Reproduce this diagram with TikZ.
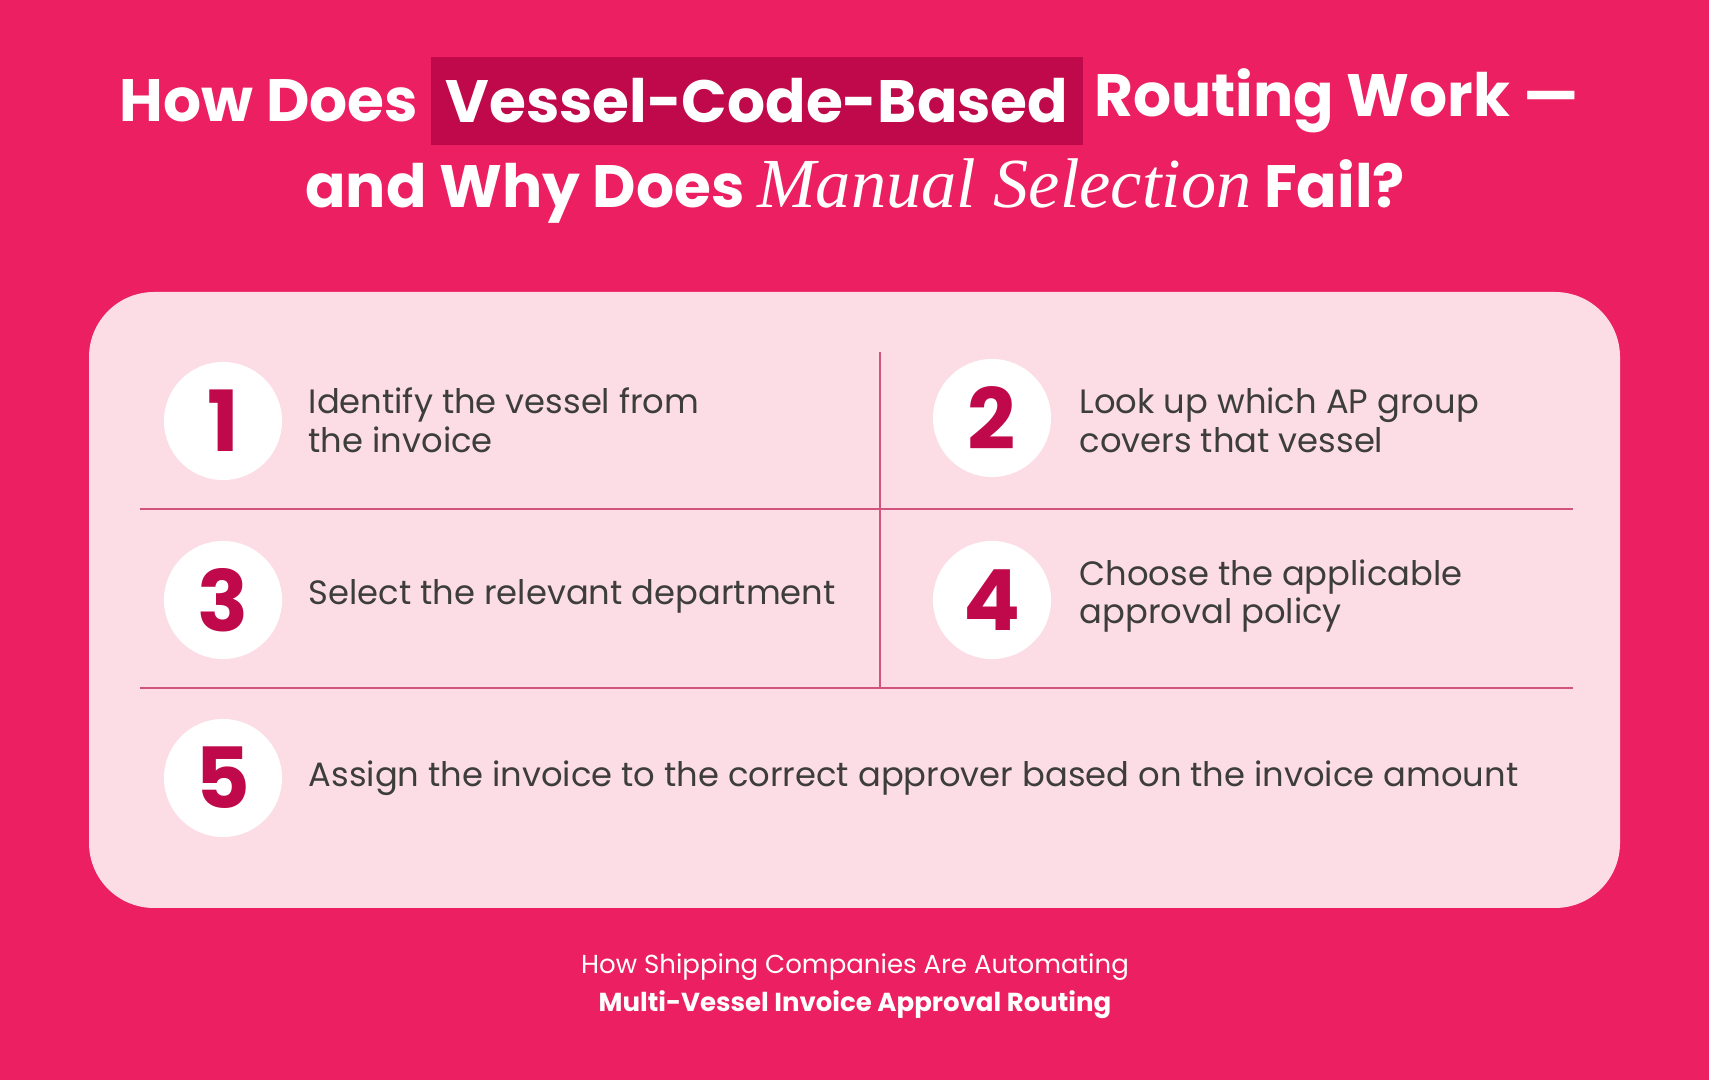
\documentclass[tikz,border=0pt]{standalone}
\usepackage{fontspec}
\setmainfont{Poppins}
\newfontfamily\serifit{Liberation Serif}
\usetikzlibrary{positioning}
\definecolor{bgpink}{HTML}{EB1F62}
\definecolor{cardpink}{HTML}{FCDDE6}
\definecolor{darkpink}{HTML}{C0094A}
\definecolor{textgrey}{HTML}{3D3D3D}
\tikzset{
  step circle/.style={circle,fill=white,minimum size=1.18cm,inner sep=0pt,
    font=\fontsize{24}{24}\selectfont\bfseries,text=darkpink},
  step text/.style={anchor=west,align=left,text=textgrey,
    font=\fontsize{9.6}{11}\selectfont,inner sep=0pt},
  title text/.style={text=white,font=\fontsize{17}{20}\selectfont\bfseries,inner sep=0pt},
  divider/.style={draw=darkpink!70,line width=0.5pt}
}
\begin{document}
\begin{tikzpicture}[x=0.01cm,y=-0.01cm]
  \fill[bgpink] (0,0) rectangle (1709,1080);
  \useasboundingbox (0,0) rectangle (1709,1080);
  % title
  \node[fill=darkpink,minimum width=6.51cm,minimum height=0.88cm,title text] (hl) at (757,101) {Vessel-Code-Based};
  \node[title text,anchor=east] (t1a) at ([xshift=-0.12cm]hl.west) {How Does};
  \node[title text,anchor=west] (t1b) at ([xshift=0.1cm]hl.east) {Routing Work —};
  \node[title text] (t2) at (855,191) {and Why Does {\serifit\itshape\mdseries\fontsize{20}{20}\selectfont Manual Selection} Fail?};
  % card
  \fill[cardpink,rounded corners=0.65cm] (89,292) rectangle (1620,908);
  \draw[divider] (140,509) -- (1573,509);
  \draw[divider] (140,688) -- (1573,688);
  \draw[divider] (880,352) -- (880,688);
  % steps
  \node[step circle] (n1) at (223,421) {1};
  \node[step circle] (n2) at (992,418) {2};
  \node[step circle] (n3) at (223,600) {3};
  \node[step circle] (n4) at (992,600) {4};
  \node[step circle] (n5) at (223,778) {5};
  \node[step text] (s1) at (308,420) {Identify the vessel from\\the invoice};
  \node[step text] (s2) at (1079,420) {Look up which AP group\\covers that vessel};
  \node[step text] (s3) at (308,596) {Select the relevant department};
  \node[step text] (s4) at (1079,596) {Choose the applicable\\approval policy};
  \node[step text] (s5) at (308,778) {Assign the invoice to the correct approver based on the invoice amount};
  % footer
  \node[text=white,font=\fontsize{7.4}{9}\selectfont] (f1) at (855,967) {How Shipping Companies Are Automating};
  \node[text=white,font=\fontsize{7.4}{9}\selectfont\bfseries] (f2) at (855,1005) {Multi-Vessel Invoice Approval Routing};
\end{tikzpicture}
\end{document}
